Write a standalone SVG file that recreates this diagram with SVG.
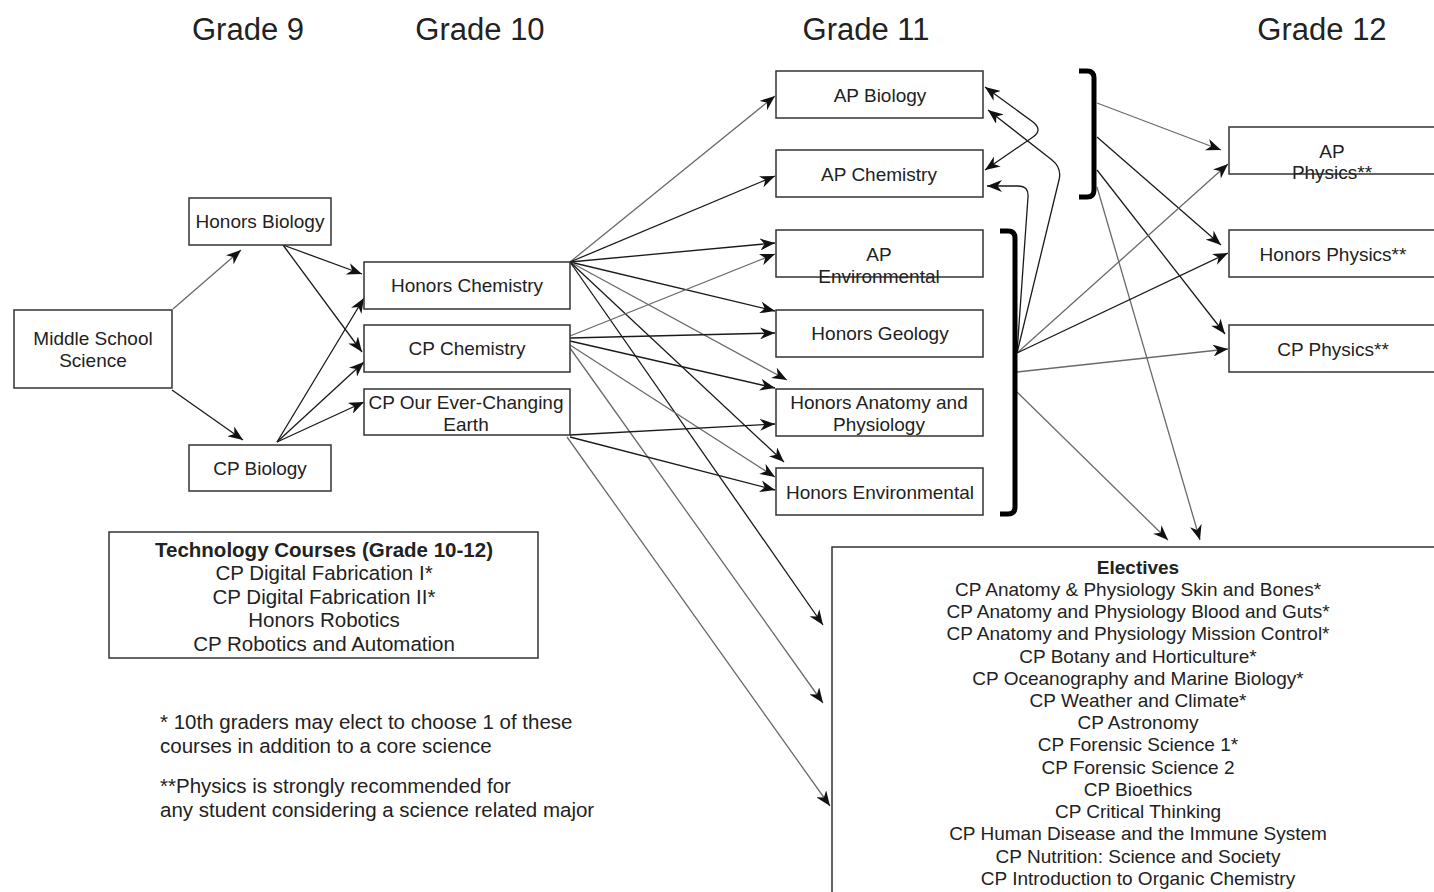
<svg xmlns="http://www.w3.org/2000/svg" width="1434" height="892" viewBox="0 0 1434 892">
<defs>
<marker id="arr" viewBox="0 0 15 12" markerWidth="15" markerHeight="12" refX="15" refY="6" orient="auto-start-reverse" markerUnits="userSpaceOnUse">
<path d="M0,0 L15,6 L0,12 L4.5,6 Z" fill="#111"/>
</marker>
</defs>
<style>
text{font-family:"Liberation Sans",Arial,Helvetica,sans-serif;fill:#222}
.h{font-size:31px;text-anchor:middle}
.n{font-size:19px;text-anchor:middle}
.e{font-size:19px;text-anchor:middle}
.t{font-size:20.5px;text-anchor:middle}
.f{font-size:20.5px}
.b{font-weight:bold}
rect{fill:#fff;stroke:#333;stroke-width:1.5}
.c path,.c line{fill:none;stroke-width:1.3;marker-end:url(#arr)}
.d{stroke:#1a1a1a}
.l{stroke:#6a6a6a}
.c path.br{fill:none;stroke:#000;stroke-width:5;stroke-linejoin:round;marker-end:none}
</style>
<rect x="0" y="0" width="1434" height="892" style="fill:#fff;stroke:none"/>

<g id="headings">
<text class="h" x="248" y="40">Grade 9</text>
<text class="h" x="480" y="40">Grade 10</text>
<text class="h" x="866" y="40">Grade 11</text>
<text class="h" x="1322" y="40">Grade 12</text>
</g>

<g id="connectors" class="c">
<line class="l" x1="173" y1="309" x2="241" y2="250"/>
<line class="d" x1="172" y1="390" x2="243" y2="440"/>
<line class="d" x1="283" y1="245" x2="362" y2="274"/>
<line class="d" x1="283" y1="245" x2="362" y2="352"/>
<line class="d" x1="277" y1="442" x2="364" y2="298"/>
<line class="d" x1="277" y1="442" x2="364" y2="362"/>
<line class="d" x1="277" y1="442" x2="364" y2="402"/>

<line class="l" x1="570" y1="262" x2="775" y2="96"/>
<line class="d" x1="570" y1="262" x2="775" y2="176"/>
<line class="d" x1="570" y1="262" x2="775" y2="243"/>
<line class="d" x1="570" y1="262" x2="775" y2="311"/>
<line class="l" x1="570" y1="262" x2="787" y2="380"/>
<line class="d" x1="570" y1="262" x2="784" y2="462"/>
<line class="d" x1="570" y1="262" x2="823" y2="625"/>
<line class="l" x1="570" y1="336" x2="775" y2="254"/>
<line class="d" x1="570" y1="338" x2="775" y2="333"/>
<line class="d" x1="570" y1="341" x2="775" y2="388"/>
<line class="l" x1="570" y1="345" x2="775" y2="477"/>
<line class="l" x1="570" y1="348" x2="823" y2="703"/>
<line class="d" x1="570" y1="435" x2="775" y2="424"/>
<line class="d" x1="570" y1="437" x2="775" y2="490"/>
<line class="l" x1="567" y1="437" x2="830" y2="806"/>

<path class="d" d="M985 170 L1033 137 Q1043 130 1033 122 L985 87" style="marker-start:url(#arr)"/>
<path class="d" d="M1017 353 L1059 180 Q1062 168 1052 160 L988 110"/>
<path class="d" d="M1017 353 L1028 197 Q1029 186 1018 186 L987 186"/>

<line class="l" x1="1097" y1="103" x2="1221" y2="150"/>
<line class="d" x1="1097" y1="137" x2="1221" y2="245"/>
<line class="d" x1="1097" y1="170" x2="1225" y2="334"/>
<line class="l" x1="1097" y1="187" x2="1200" y2="540"/>
<line class="l" x1="1017" y1="353" x2="1228" y2="164"/>
<line class="d" x1="1017" y1="353" x2="1228" y2="253"/>
<line class="l" x1="1017" y1="372" x2="1228" y2="349"/>
<line class="l" x1="1017" y1="392" x2="1168" y2="540"/>

<path class="br" d="M1079 71 L1087 71 Q1094 71 1094 78 L1094 190 Q1094 197 1087 197 L1079 197"/>
<path class="br" d="M1000 231 L1008 231 Q1015 231 1015 238 L1015 507 Q1015 514 1008 514 L1000 514"/>
</g>

<g id="middle-school-science">
<rect x="14" y="310" width="158" height="78"/>
<text class="n" x="93" y="345">Middle School</text>
<text class="n" x="93" y="367">Science</text>
</g>
<g id="honors-biology">
<rect x="189" y="198" width="142" height="47"/>
<text class="n" x="260" y="228">Honors Biology</text>
</g>
<g id="cp-biology">
<rect x="189" y="445" width="142" height="46"/>
<text class="n" x="260" y="475">CP Biology</text>
</g>
<g id="honors-chemistry">
<rect x="364" y="262" width="206" height="47"/>
<text class="n" x="467" y="292">Honors Chemistry</text>
</g>
<g id="cp-chemistry">
<rect x="364" y="325" width="206" height="47"/>
<text class="n" x="467" y="355">CP Chemistry</text>
</g>
<g id="cp-earth">
<rect x="364" y="389" width="206" height="46"/>
<text class="n" x="466" y="409">CP Our Ever-Changing</text>
<text class="n" x="466" y="431">Earth</text>
</g>
<g id="ap-biology">
<rect x="776" y="71" width="207" height="47"/>
<text class="n" x="880" y="102">AP Biology</text>
</g>
<g id="ap-chemistry">
<rect x="776" y="150" width="207" height="47"/>
<text class="n" x="879" y="181">AP Chemistry</text>
</g>
<g id="ap-environmental">
<rect x="776" y="230" width="207" height="47"/>
<text class="n" x="879" y="261">AP</text>
<text class="n" x="879" y="283">Environmental</text>
</g>
<g id="honors-geology">
<rect x="776" y="310" width="207" height="47"/>
<text class="n" x="880" y="340">Honors Geology</text>
</g>
<g id="honors-anatomy">
<rect x="776" y="389" width="207" height="47"/>
<text class="n" x="879" y="409">Honors Anatomy and</text>
<text class="n" x="879" y="431">Physiology</text>
</g>
<g id="honors-environmental">
<rect x="776" y="468" width="207" height="47"/>
<text class="n" x="880" y="499">Honors Environmental</text>
</g>
<g id="ap-physics">
<rect x="1229" y="127" width="210" height="47"/>
<text class="n" x="1332" y="158">AP</text>
<text class="n" x="1332" y="179">Physics**</text>
</g>
<g id="honors-physics">
<rect x="1229" y="230" width="210" height="47"/>
<text class="n" x="1333" y="261">Honors Physics**</text>
</g>
<g id="cp-physics">
<rect x="1229" y="325" width="210" height="47"/>
<text class="n" x="1333" y="356">CP Physics**</text>
</g>

<g id="electives">
<rect x="832" y="547" width="620" height="400"/>
<text class="e b" x="1138" y="574">Electives</text>
<text class="e" x="1138" y="596">CP Anatomy &amp; Physiology Skin and Bones*</text>
<text class="e" x="1138" y="618">CP Anatomy and Physiology Blood and Guts*</text>
<text class="e" x="1138" y="640">CP Anatomy and Physiology Mission Control*</text>
<text class="e" x="1138" y="663">CP Botany and Horticulture*</text>
<text class="e" x="1138" y="685">CP Oceanography and Marine Biology*</text>
<text class="e" x="1138" y="707">CP Weather and Climate*</text>
<text class="e" x="1138" y="729">CP Astronomy</text>
<text class="e" x="1138" y="751">CP Forensic Science 1*</text>
<text class="e" x="1138" y="774">CP Forensic Science 2</text>
<text class="e" x="1138" y="796">CP Bioethics</text>
<text class="e" x="1138" y="818">CP Critical Thinking</text>
<text class="e" x="1138" y="840">CP Human Disease and the Immune System</text>
<text class="e" x="1138" y="863">CP Nutrition: Science and Society</text>
<text class="e" x="1138" y="885">CP Introduction to Organic Chemistry</text>
</g>

<g id="technology-courses">
<rect x="109" y="532" width="429" height="126"/>
<text class="t b" x="324" y="557">Technology Courses (Grade 10-12)</text>
<text class="t" x="324" y="580">CP Digital Fabrication I*</text>
<text class="t" x="324" y="604">CP Digital Fabrication II*</text>
<text class="t" x="324" y="627">Honors Robotics</text>
<text class="t" x="324" y="651">CP Robotics and Automation</text>
</g>

<g id="footnotes">
<text class="f" x="160" y="729">* 10th graders may elect to choose 1 of these</text>
<text class="f" x="160" y="753">courses in addition to a core science</text>
<text class="f" x="160" y="793">**Physics is strongly recommended for</text>
<text class="f" x="160" y="817">any student considering a science related major</text>
</g>
</svg>
